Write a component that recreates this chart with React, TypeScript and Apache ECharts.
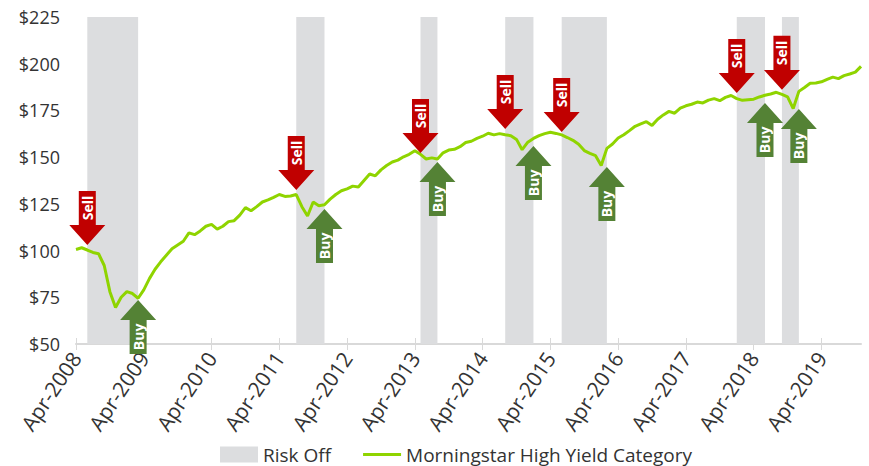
import React, { useEffect, useRef } from 'react';
import * as echarts from 'echarts';

const MONTH_NAMES = ['Jan', 'Feb', 'Mar', 'Apr', 'May', 'Jun', 'Jul', 'Aug', 'Sep', 'Oct', 'Nov', 'Dec'];

// Monthly categories Apr-2008 .. Nov-2019
const categories: string[] = [];
for (let i = 0; i < 140; i++) {
  const t = 3 + i;
  categories.push(MONTH_NAMES[t % 12] + '-' + (2008 + Math.floor(t / 12)));
}

// Morningstar High Yield Category growth of $100 (monthly)
const highYield = [
  100.6, 101.5, 100.3, 99, 98.3, 92, 78, 69.5, 75, 78, 77, 74.5,
  79, 85, 90, 94, 97.5, 101, 103, 105, 109.5, 108.5, 110.5, 113,
  114, 111.5, 113, 115.5, 116, 119, 123, 121.3, 123.5, 126, 127.1, 128.5,
  130, 129, 129.2, 130, 123.5, 118.5, 126, 124, 124.5, 127.5, 130, 132,
  133, 134.5, 134, 137.5, 141, 140, 143.2, 145.5, 147.4, 148.4, 150.2, 151.5,
  153.4, 151.5, 149, 149.6, 149, 152.3, 153.8, 154.2, 155.6, 157.8, 158.5, 160,
  161.2, 162.8, 161.9, 162.6, 162, 161.5, 159.5, 154, 158, 160, 161.5, 162.6,
  163.3, 162.7, 161.9, 160.5, 159, 156.9, 153.5, 152, 150.8, 145.5, 154.7, 157,
  160.2, 162, 164.2, 166.5, 167.8, 169, 167, 170.3, 172.6, 174.5, 173.5, 176.2,
  177.5, 178.3, 179.5, 179, 180.5, 181.3, 180.2, 182, 183, 181.3, 180.4, 180.7,
  181, 182.2, 183.1, 183.8, 184.7, 183.6, 182.3, 176, 185.2, 187.3, 189.5, 189.7,
  190.3, 191.6, 192.8, 192, 193.6, 194.5, 195.5, 198.6,
];

// Risk-off periods
const riskOffStart = ['Jun-2008', 'Jul-2011', 'May-2013', 'Aug-2014', 'Jun-2015', 'Jan-2018', 'Sep-2018'];
const riskOffEnd = ['Mar-2009', 'Dec-2011', 'Aug-2013', 'Jan-2015', 'Feb-2016', 'Jun-2018', 'Dec-2018'];

// Signal arrow tip levels
const sellLevels = [103, 132.4, 152.2, 165.1, 163.5, 184.3, 186];
const buyLevels = [73.6, 122.3, 147.4, 156, 144.7, 179, 175.8];

const yTicks = { min: 50, max: 225, interval: 25 };

const GRAY = '#dcdddf';
const GREEN_LINE = '#8fd400';
const SELL_RED = '#c00000';
const BUY_GREEN = '#548235';
const TEXT = '#333333';
const FONT = '"Open Sans", "Noto Sans", sans-serif';

const SELL_PATH = 'path://M9.5,0 L26.5,0 L26.5,34 L36,34 L18,54 L0,34 L9.5,34 Z';
const BUY_PATH = 'path://M18,0 L36,20 L26.5,20 L26.5,54 L9.5,54 L9.5,20 L0,20 Z';
const LEGEND_LINE = 'path://M0,0 L38,0 L38,3 L0,3 Z';

export default function App() {
  const ref = useRef<HTMLDivElement>(null);

  useEffect(() => {
    document.body.style.margin = '0';
    if (!ref.current) return;
    const chart = echarts.init(ref.current, undefined, { renderer: 'svg' });

    const axisTickCommon = {
      show: true,
      interval: 11,
      length: 6,
      lineStyle: { color: '#d9d9d9', width: 1 },
    };

    const option: any = {
      animation: false,
      textStyle: { fontFamily: FONT },
      grid: { left: 76, right: 8, top: 17, bottom: 122, containLabel: false },
      legend: {
        left: 220,
        top: 445,
        padding: 0,
        itemWidth: 38,
        itemHeight: 16,
        itemGap: 32,
        symbolKeepAspect: true,
        textStyle: { fontSize: 19, color: TEXT, fontFamily: FONT },
        data: [
          { name: 'Risk Off', icon: 'rect', itemStyle: { color: GRAY } },
          { name: 'Morningstar High Yield Category', icon: LEGEND_LINE, itemStyle: { color: GREEN_LINE } },
        ],
        selectedMode: false,
      },
      xAxis: [
        {
          type: 'category',
          data: categories,
          boundaryGap: false,
          axisLine: { show: true, lineStyle: { color: '#d9d9d9', width: 2 } },
          axisTick: { ...axisTickCommon, inside: false },
          axisLabel: {
            interval: 11,
            rotate: 56,
            margin: 10,
            fontSize: 21,
            color: TEXT,
            fontFamily: FONT,
          },
          splitLine: { show: false },
        },
        {
          type: 'category',
          data: categories,
          boundaryGap: false,
          position: 'bottom',
          axisLine: { show: false },
          axisTick: { ...axisTickCommon, inside: true },
          axisLabel: { show: false },
          splitLine: { show: false },
        },
      ],
      yAxis: {
        type: 'value',
        min: yTicks.min,
        max: yTicks.max,
        interval: yTicks.interval,
        axisLine: { show: false },
        axisTick: { show: false },
        splitLine: { show: false },
        axisLabel: {
          formatter: (v: number) => '$' + v,
          fontSize: 18,
          color: TEXT,
          margin: 16,
          fontFamily: FONT,
        },
      },
      series: [
        {
          name: 'Risk Off',
          type: 'line',
          data: [],
          z: 1,
          itemStyle: { color: GRAY },
          lineStyle: { color: GRAY },
          markArea: {
            silent: true,
            itemStyle: { color: GRAY },
            data: riskOffStart.map((s, i) => [{ xAxis: s }, { xAxis: riskOffEnd[i] }]),
          },
        },
        {
          name: 'Morningstar High Yield Category',
          type: 'line',
          data: highYield,
          symbol: 'none',
          z: 3,
          itemStyle: { color: GREEN_LINE },
          lineStyle: { color: GREEN_LINE, width: 3 },
          silent: true,
        },
        {
          name: 'Sell',
          type: 'scatter',
          z: 5,
          clip: false,
          silent: true,
          data: riskOffStart.map((d, i) => [d, sellLevels[i]]),
          symbol: SELL_PATH,
          symbolSize: [36, 54],
          symbolOffset: [0, -27],
          itemStyle: { color: SELL_RED, opacity: 1 },
          label: {
            show: true,
            formatter: 'Sell',
            rotate: 90,
            position: ['50%', '31.5%'],
            align: 'center',
            verticalAlign: 'middle',
            color: '#ffffff',
            fontWeight: 'bold',
            fontSize: 14,
            fontFamily: FONT,
          },
        },
        {
          name: 'Buy',
          type: 'scatter',
          z: 5,
          clip: false,
          silent: true,
          data: riskOffEnd.map((d, i) => [d, buyLevels[i]]),
          symbol: BUY_PATH,
          symbolSize: [36, 54],
          symbolOffset: [0, 27],
          itemStyle: { color: BUY_GREEN, opacity: 1 },
          label: {
            show: true,
            formatter: 'Buy',
            rotate: 90,
            position: ['50%', '68.5%'],
            align: 'center',
            verticalAlign: 'middle',
            color: '#ffffff',
            fontWeight: 'bold',
            fontSize: 14,
            fontFamily: FONT,
          },
        },
      ],
    };

    chart.setOption(option);
    return () => chart.dispose();
  }, []);

  return <div ref={ref} style={{ width: 869, height: 466 }} />;
}
